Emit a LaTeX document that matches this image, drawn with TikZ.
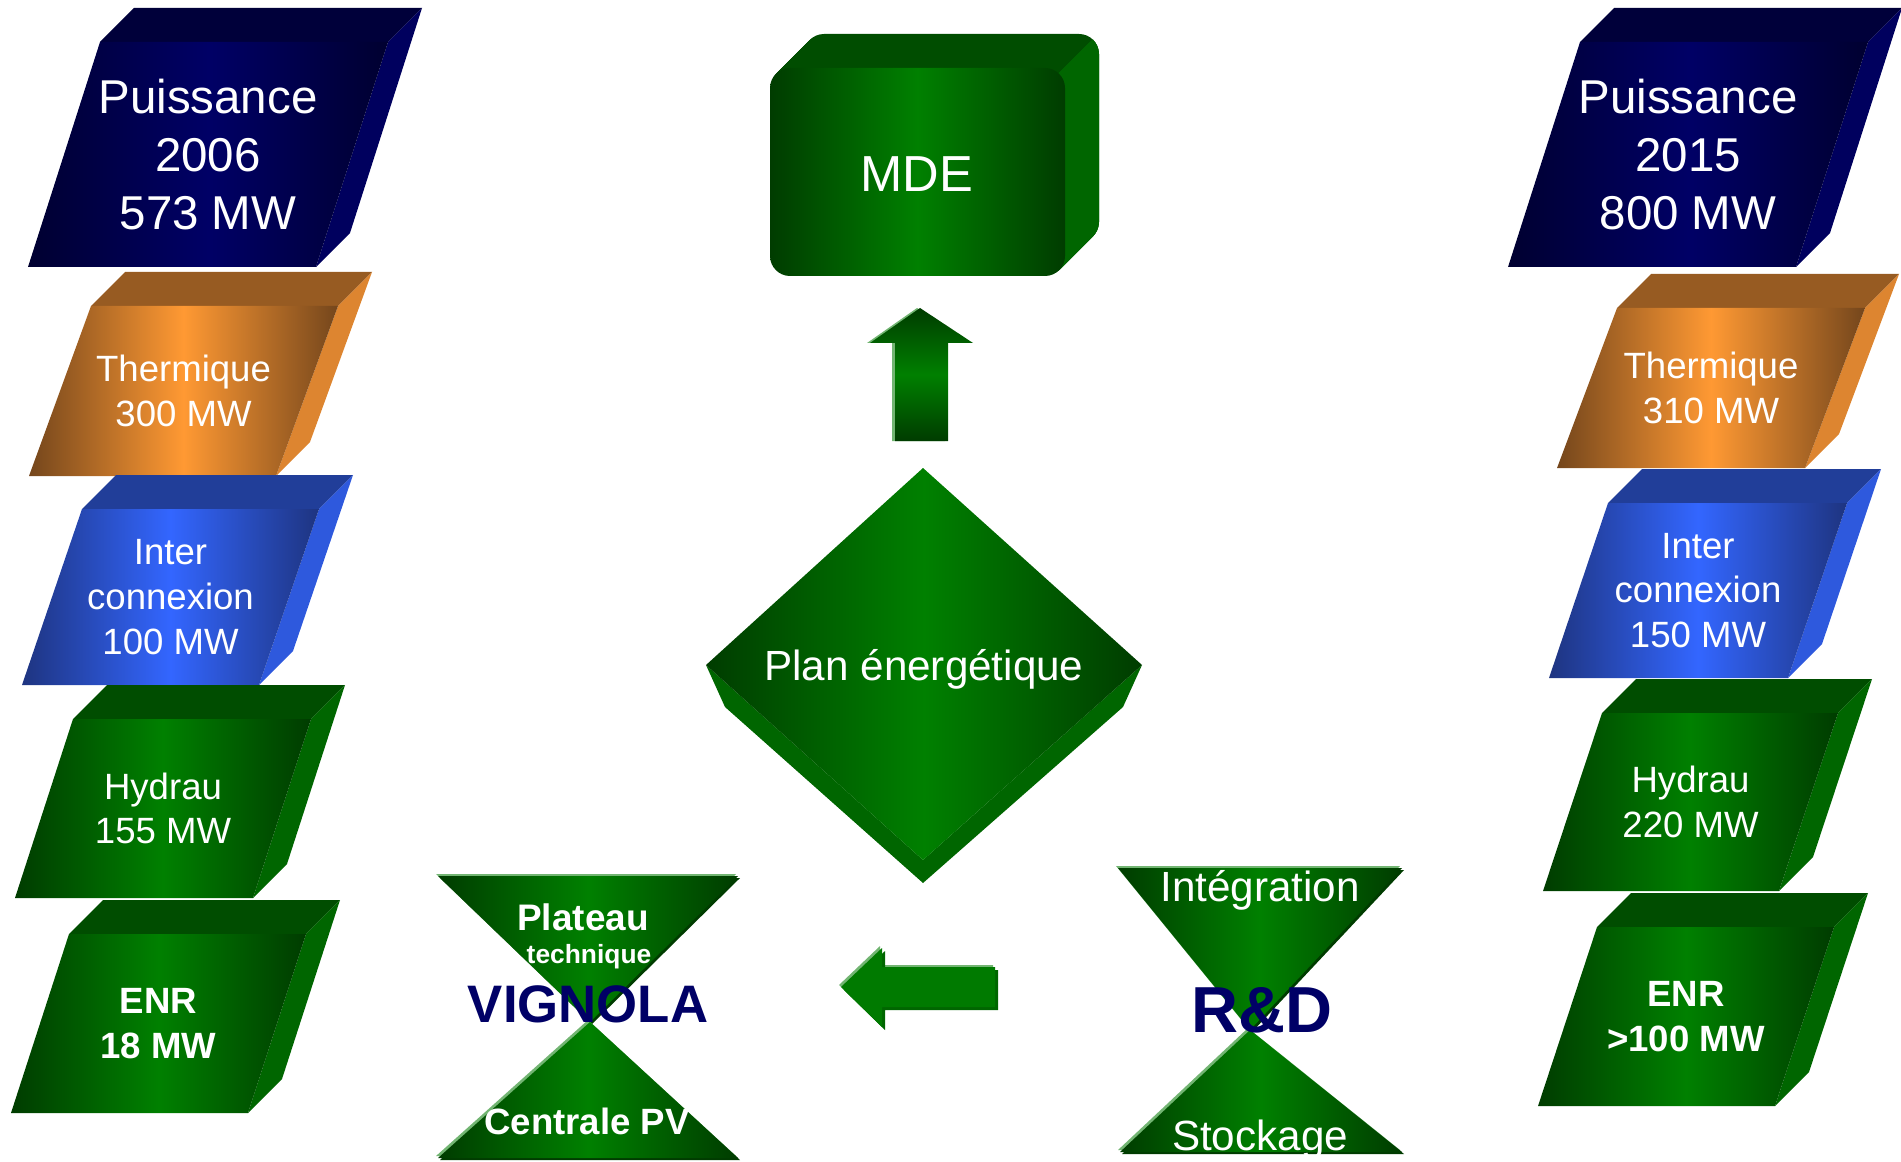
\documentclass[tikz,border=0pt]{standalone}
\usepackage{fontspec}
\setmainfont{Liberation Sans}

\definecolor{navydark}{HTML}{000030}
\definecolor{navymid}{HTML}{000066}
\definecolor{navytop}{HTML}{00003A}
\definecolor{navyside}{HTML}{00005E}
\definecolor{orangedark}{HTML}{74461C}
\definecolor{orangemid}{HTML}{FF9933}
\definecolor{orangetop}{HTML}{975B22}
\definecolor{orangeside}{HTML}{DD8530}
\definecolor{bluedark}{HTML}{1E3480}
\definecolor{bluemid}{HTML}{3366FF}
\definecolor{bluetop}{HTML}{213E99}
\definecolor{blueside}{HTML}{2E59DD}
\definecolor{greendark}{HTML}{003C00}
\definecolor{greenmid}{HTML}{008000}
\definecolor{greentop}{HTML}{004D00}
\definecolor{greenside}{HTML}{006600}
\definecolor{greenlight}{HTML}{72B572}
\definecolor{titlenavy}{HTML}{000066}

\tikzset{
  lbl/.style={text=white, inner sep=0pt, align=center},
  txtbig/.style={lbl, font=\fontsize{13.5}{16.4}\selectfont},
  txtsmall/.style={lbl, font=\fontsize{10.4}{12.7}\selectfont},
  txtbf/.style={lbl, font=\fontsize{10.4}{12.7}\selectfont\bfseries},
  txtmid/.style={lbl, anchor=base, font=\fontsize{12}{14}\selectfont},
  glow/.style={left color=greendark, right color=greendark, middle color=greenmid},
  round/.style={rounded corners=5.7pt},
}

% pave 3D : nom, x bas-gauche, y bas, largeur, hauteur, pente, couleur, style, texte
\newcommand{\pave}[9]{%
  \fill[#7top] ({#2+#6},{#3-#5}) -- ++(34,-34) -- ++(#4,0) -- ++(-34,34) -- cycle;
  \fill[#7side] ({#2+#6+#4},{#3-#5}) -- ++(34,-34) -- ({#2+#4+34},{#3-34}) -- ({#2+#4},#3) -- cycle;
  \shade[left color=#7dark, right color=#7dark, middle color=#7mid]
    (#2,#3) -- ++(#4,0) -- ++(#6,-#5) -- ++(-#4,0) -- cycle;
  \node[#8] (#1) at ({#2+(#6+#4)/2},{#3-#5/2}) {#9};
}

\begin{document}
\begin{tikzpicture}[x=0.01cm, y=-0.01cm]
  \useasboundingbox (0,0) rectangle (1901,1161);

  % colonne 2006
  \pave{p06}{28}{267}{288}{225}{72}{navy}{txtbig}{Puissance\\2006\\573 MW}
  \pave{th06}{29}{476}{247}{170}{62}{orange}{txtsmall}{Thermique\\300 MW}
  \pave{ic06}{22}{685}{237}{176}{60}{blue}{txtsmall}{Inter\\connexion\\100 MW}
  \pave{hy06}{15}{898}{238}{179}{58}{green}{txtsmall}{Hydrau\\155 MW}
  \pave{enr06}{11}{1113}{237}{179}{58}{green}{txtbf}{ENR\\18 MW}

  % colonne 2015
  \pave{p15}{1508}{267}{288}{225}{72}{navy}{txtbig}{Puissance\\2015\\800 MW}
  \pave{th15}{1557}{468}{248}{160}{60}{orange}{txtsmall}{Thermique\\310 MW}
  \pave{ic15}{1549}{678}{239}{175}{59}{blue}{txtsmall}{Inter\\connexion\\150 MW}
  \pave{hy15}{1543}{891}{236}{178}{59}{green}{txtsmall}{Hydrau\\220 MW}
  \pave{enr15}{1538}{1106}{237}{179}{59}{green}{txtbf}{ENR\\>100 MW}

  % MDE
  \foreach \k in {1,...,34}
    \fill[greentop, round] ({770+\k},{68-\k}) rectangle ({1065+\k},{276-\k});
  \begin{scope}
    \clip (1058,74) -- (1120,12) -- (1120,300) -- (1058,300) -- cycle;
    \foreach \k in {1,...,34}
      \fill[greenside, round] ({770+\k},{68-\k}) rectangle ({1065+\k},{276-\k});
  \end{scope}
  \shade[glow, round] (770,68) rectangle (1065,276);
  \node[lbl, anchor=base, font=\fontsize{14.4}{16}\selectfont] (mde) at (917,192) {MDE};

  % flèche vers le haut
  \fill[greenlight] (917,308) -- (970,343) -- (945,343) -- (945,441) -- (892,441) -- (892,343) -- (867,343) -- cycle;
  \shade[top color=greendark, bottom color=greendark, middle color=greenmid]
    (920,308) -- (973,343) -- (948,343) -- (948,441) -- (895,441) -- (895,343) -- (870,343) -- cycle;

  % plan énergétique
  \fill[greenside] (706,665) -- (725,707) -- (923,883) -- (1123,707) -- (1142,665) -- (923,860) -- cycle;
  \shade[glow] (923,468) -- (1142,665) -- (923,860) -- (706,665) -- cycle;
  \node[txtmid] (plan) at (924,680) {Plan énergétique};

  % flèche vers la gauche
  \fill[greenlight] (839,985) -- (880,946) -- (880,965) -- (993,965) -- (993,1005) -- (880,1005) -- (880,1025) -- cycle;
  \fill[green!40!black] (844,990) -- (885,951) -- (885,970) -- (998,970) -- (998,1010) -- (885,1010) -- (885,1030) -- cycle;
  \fill[green!48!black] (841,987) -- (882,948) -- (882,967) -- (995,967) -- (995,1007) -- (882,1007) -- (882,1027) -- cycle;

  % sabliers
  \foreach \dx/\dy/\col in {2/2/greendark, -2/-2/greenlight} {
    \fill[\col, shift={(\dx,\dy)}] (438,876) -- (738,876) -- (590,1022) -- cycle;
    \fill[\col, shift={(\dx,\dy)}] (590,1022) -- (738,1158) -- (438,1158) -- cycle;
    \fill[\col, shift={(\dx,\dy)}] (1118,868) -- (1402,868) -- (1250,1030) -- cycle;
    \fill[\col, shift={(\dx,\dy)}] (1250,1030) -- (1402,1152) -- (1120,1152) -- cycle;
  }
  \shade[glow] (438,876) -- (738,876) -- (590,1022) -- cycle;
  \shade[glow] (590,1022) -- (738,1158) -- (438,1158) -- cycle;
  \shade[glow] (1118,868) -- (1402,868) -- (1250,1030) -- cycle;
  \shade[glow] (1250,1030) -- (1402,1152) -- (1120,1152) -- cycle;

  \node[lbl, anchor=base, font=\fontsize{10.5}{12}\selectfont\bfseries] (plateau) at (583,930) {Plateau};
  \node[lbl, anchor=base, font=\fontsize{7.5}{9}\selectfont\bfseries] (tech) at (589,963) {technique};
  \node[lbl, anchor=base, text=titlenavy, font=\fontsize{15}{17}\selectfont\bfseries] (vignola) at (588,1022) {VIGNOLA};
  \node[lbl, anchor=base, font=\fontsize{10.4}{12}\selectfont\bfseries] (pv) at (587,1134) {Centrale PV};

  \node[txtmid] (integ) at (1260,901) {Intégration};
  \node[lbl, anchor=base, text=titlenavy, font=\fontsize{18.5}{20}\selectfont\bfseries] (rd) at (1262,1032) {R\&D};
  \node[txtmid] (stock) at (1260,1150) {Stockage};
\end{tikzpicture}
\end{document}
